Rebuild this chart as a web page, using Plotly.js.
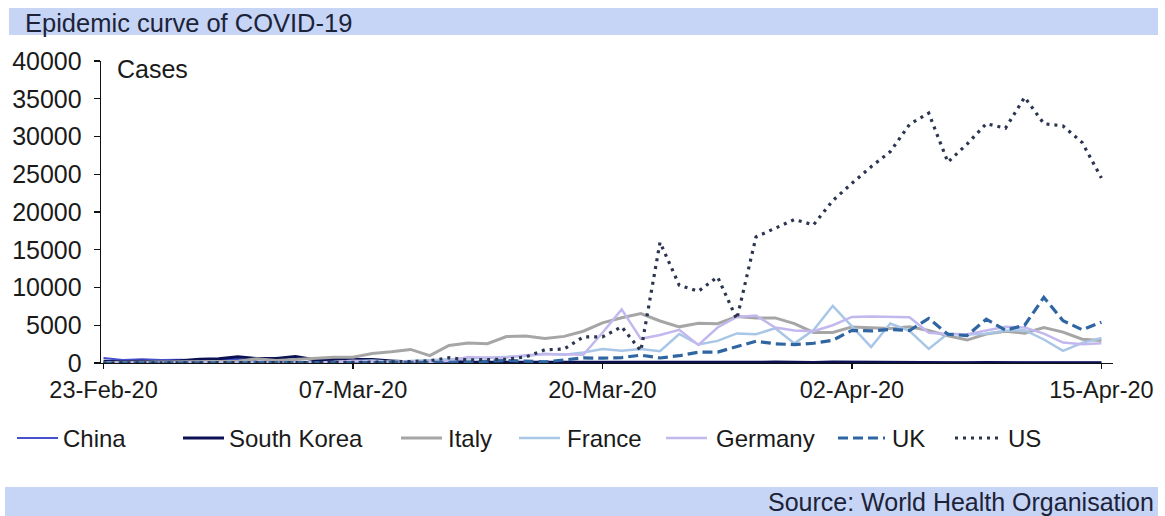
<!DOCTYPE html>
<html>
<head>
<meta charset="utf-8">
<script src="https://cdn.plot.ly/plotly-3.0.1.min.js"></script>
<style>
html,body{margin:0;padding:0;background:#fff;}
#chart{width:1165px;height:516px;}
</style>
</head>
<body>
<div id="chart"></div>
<script>
var dates = ["2020-02-23","2020-02-24","2020-02-25","2020-02-26","2020-02-27","2020-02-28","2020-02-29",
"2020-03-01","2020-03-02","2020-03-03","2020-03-04","2020-03-05","2020-03-06","2020-03-07","2020-03-08",
"2020-03-09","2020-03-10","2020-03-11","2020-03-12","2020-03-13","2020-03-14","2020-03-15","2020-03-16",
"2020-03-17","2020-03-18","2020-03-19","2020-03-20","2020-03-21","2020-03-22","2020-03-23","2020-03-24",
"2020-03-25","2020-03-26","2020-03-27","2020-03-28","2020-03-29","2020-03-30","2020-03-31","2020-04-01",
"2020-04-02","2020-04-03","2020-04-04","2020-04-05","2020-04-06","2020-04-07","2020-04-08","2020-04-09",
"2020-04-10","2020-04-11","2020-04-12","2020-04-13","2020-04-14","2020-04-15"];

var china = [648,409,508,406,433,327,427,573,202,125,119,139,143,99,44,40,19,24,15,8,11,20,16,21,13,34,39,41,46,39,78,47,67,55,54,45,31,48,36,35,31,19,30,39,32,62,63,42,46,99,108,89,46];
var southKorea = [229,169,231,144,284,505,571,813,586,599,851,435,467,505,448,273,164,35,242,114,110,107,76,74,84,93,152,87,147,98,64,76,100,104,91,146,105,78,125,101,89,86,94,81,47,47,53,39,27,30,32,25,27];
var italy = [59,78,72,94,147,185,234,239,566,342,466,587,769,778,1247,1492,1797,977,2313,2651,2547,3497,3590,3233,3526,4207,5322,5986,6557,5560,4789,5249,5210,6153,5959,5974,5217,4050,4053,4782,4668,4585,4805,4316,3599,3039,3836,4204,3951,4694,4092,3153,2972];
var france = [0,0,0,2,4,20,19,43,30,61,21,73,138,190,336,177,286,372,497,595,785,838,924,1210,1097,1404,1861,1617,1847,1559,3838,2446,2931,3922,3809,4611,2599,4376,7578,4861,2116,5233,4267,1873,3912,3777,3881,4286,4342,3114,1613,2673,3300];
var germany = [0,0,0,0,2,10,20,30,50,28,39,66,138,284,163,55,237,157,271,802,693,733,1043,1174,1144,1100,4000,7100,3200,3700,4400,2400,4700,6100,6300,4700,4300,4200,5000,6100,6150,6100,6050,4000,3800,3800,4300,4800,4700,3900,2700,2500,2600];
var uk = [0,0,0,4,0,2,5,3,12,4,11,34,29,46,46,65,50,52,83,134,208,342,251,152,407,676,643,714,1035,665,967,1427,1452,2129,2885,2546,2433,2619,3009,4324,4244,4450,4300,5903,3802,3634,5800,4344,5000,8700,5600,4400,5400];
var us = [0,0,0,0,0,1,0,5,10,15,20,30,50,80,110,130,200,300,700,400,450,500,800,1750,1850,3450,3450,4800,1600,16000,10300,9500,11400,5800,16700,17900,19000,18300,21500,23800,26000,28000,31600,33100,26600,29000,31700,31100,35200,31700,31400,29200,24500];

var seriesNames = ["China","South Korea","Italy","France","Germany","UK","US"];
var seriesData = [china, southKorea, italy, france, germany, uk, us];
var seriesColors = ["#4450cc","#0b1152","#a6a6a6","#a8c6e6","#c2b8ee","#2f66a2","#2c3550"];
var seriesWidths = [2,3,3,2.5,2.5,3.2,3.2];
var seriesDash = ["solid","solid","solid","solid","solid","10px,5px","3px,5px"];

var tickDates = ["2020-02-23","2020-03-07","2020-03-20","2020-04-02","2020-04-15"];
var tickLabels = ["23-Feb-20","07-Mar-20","20-Mar-20","02-Apr-20","15-Apr-20"];

var traces = seriesNames.map(function(n,i){
  return {
    x: dates, y: seriesData[i], name: n, type: "scatter", mode: "lines",
    line: {color: seriesColors[i], width: seriesWidths[i], dash: seriesDash[i]},
    showlegend: false
  };
});

var L = 101, W = 1012, T = 61, H = 302;
function px2x(p){ return (p - L) / W; }
function px2y(p){ return (T + H - p) / H; }

var FONT = "Liberation Sans, Arial, Helvetica, sans-serif";

// legend layout (pixel positions of sample line start/end and label start)
var legendLineStart = [17, 183, 401, 519, 666, 838, 955];
var legendLineEnd   = [58, 224, 442, 560, 707, 885, 1000];
var legendTextStart = [61, 227, 446, 565, 714, 890, 1006];
var legendY = 438;

var shapes = [
  {type: "rect", xref: "paper", yref: "paper", x0: px2x(9), x1: px2x(1158), y0: px2y(35), y1: px2y(8),
   fillcolor: "#c6d4f6", line: {width: 0}, layer: "below"},
  {type: "rect", xref: "paper", yref: "paper", x0: px2x(5), x1: px2x(1158), y0: px2y(516), y1: px2y(487),
   fillcolor: "#c6d4f6", line: {width: 0}, layer: "below"}
];
var annotations = [
  {text: "Epidemic curve of COVID-19", xref: "paper", yref: "paper", x: px2x(23), y: px2y(23),
   xanchor: "left", yanchor: "middle", showarrow: false,
   font: {family: FONT, size: 25.5, color: "#1c2338"}},
  {text: "Cases", xref: "paper", yref: "paper", x: px2x(115), y: px2y(69),
   xanchor: "left", yanchor: "middle", showarrow: false,
   font: {family: FONT, size: 25, color: "#1a1a1a"}},
  {text: "Source: World Health Organisation", xref: "paper", yref: "paper", x: px2x(1156), y: px2y(502),
   xanchor: "right", yanchor: "middle", showarrow: false,
   font: {family: FONT, size: 25, color: "#1c2338"}}
];
seriesNames.forEach(function(n,i){
  shapes.push({type: "line", xref: "paper", yref: "paper",
    x0: px2x(legendLineStart[i]), x1: px2x(legendLineEnd[i]), y0: px2y(legendY), y1: px2y(legendY),
    line: {color: seriesColors[i], width: seriesWidths[i], dash: seriesDash[i]}});
  annotations.push({text: n, xref: "paper", yref: "paper", x: px2x(legendTextStart[i]), y: px2y(legendY),
    xanchor: "left", yanchor: "middle", showarrow: false,
    font: {family: FONT, size: 24, color: "#1a1a1a"}});
});

var layout = {
  width: 1165, height: 516,
  margin: {l: L, r: 1165 - L - W, t: T, b: 516 - T - H, pad: 0},
  paper_bgcolor: "#ffffff", plot_bgcolor: "#ffffff",
  font: {family: FONT, size: 22, color: "#1a1a1a"},
  showlegend: false,
  xaxis: {
    type: "date",
    range: ["2020-02-22 20:50", "2020-04-15 14:30"],
    tickvals: tickDates, ticktext: tickLabels,
    ticks: "outside", ticklen: 5, tickwidth: 1.3, tickcolor: "#111",
    showline: true, linecolor: "#111", linewidth: 1.3,
    showgrid: false, zeroline: false,
    tickfont: {family: FONT, size: 23.5, color: "#1a1a1a"},
    fixedrange: true
  },
  yaxis: {
    range: [0, 40000], dtick: 5000, tick0: 0, tickformat: "d",
    ticks: "outside", ticklen: 6, tickwidth: 1.3, tickcolor: "#111",
    showline: true, linecolor: "#111", linewidth: 1.3,
    showgrid: false, zeroline: false,
    tickfont: {family: FONT, size: 25, color: "#1a1a1a"},
    ticklabelstandoff: 7,
    fixedrange: true
  },
  shapes: shapes,
  annotations: annotations
};

Plotly.newPlot("chart", traces, layout, {displayModeBar: false, staticPlot: true});
</script>
</body>
</html>
